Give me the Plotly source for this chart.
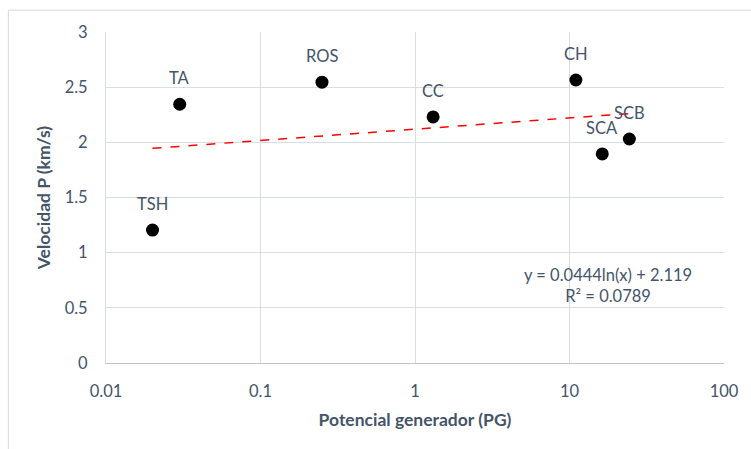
import numpy as np
import plotly.graph_objects as go

labels = ["TSH", "TA", "ROS", "CC", "CH", "SCA", "SCB"]
pg = [0.02, 0.03, 0.25, 1.31, 11.0, 16.3, 24.4]
vp = [1.205, 2.345, 2.545, 2.23, 2.565, 1.895, 2.03]
trend_a = 0.0444
trend_b = 2.119
trend_x = [0.02, 24.4]

text_col = "#44546A"
grid_col = "#D9DDE4"
font_fam = "Lato, 'Open Sans', sans-serif"

tx = np.logspace(np.log10(trend_x[0]), np.log10(trend_x[1]), 50)
ty = trend_a * np.log(tx) + trend_b

fig = go.Figure()
fig.add_trace(go.Scatter(x=tx, y=ty, mode="lines",
                         line=dict(color="#FF0000", width=1.5, dash="dash"),
                         hoverinfo="skip", showlegend=False))
fig.add_trace(go.Scatter(x=pg, y=vp, mode="markers",
                         marker=dict(color="black", size=13),
                         showlegend=False))

for lab, x, y in zip(labels, pg, vp):
    fig.add_annotation(x=np.log10(x), y=y, text=lab, showarrow=False,
                       xanchor="center", yanchor="middle",
                       yshift=26, font=dict(size=16.5, color=text_col, family=font_fam))

fig.add_annotation(xref="paper", yref="paper", x=0.812, y=0.233,
                   xanchor="center", yanchor="middle",
                   text="y = 0.0444ln(x) + 2.119<br>R² = 0.0789", showarrow=False,
                   align="center", font=dict(size=16.5, color=text_col, family=font_fam))

fig.add_shape(type="rect", xref="paper", yref="paper",
              x0=-0.158, x1=1.1, y0=-0.35, y1=1.066,
              line=dict(color="#D9D9D9", width=1), fillcolor="rgba(0,0,0,0)")

fig.update_layout(
    width=751, height=449,
    margin=dict(l=106, r=25, t=32, b=86),
    paper_bgcolor="white", plot_bgcolor="white",
    font=dict(family=font_fam, color=text_col, size=16),
    xaxis=dict(type="log", range=[-2, 2], tickvals=[0.01, 0.1, 1, 10, 100],
               ticktext=["0.01", "0.1", "1", "10", "100"],
               showgrid=True, gridcolor=grid_col, gridwidth=1,
               zeroline=False, showline=True, linecolor="#BCC5D3", mirror=False,
               ticks="", ticklabelstandoff=13, tickfont=dict(size=16.5, color=text_col),
               title=dict(text="<b>Potencial generador (PG)</b>",
                          font=dict(size=17.5, color=text_col), standoff=13)),
    yaxis=dict(range=[0, 3], tickvals=[0, 0.5, 1, 1.5, 2, 2.5, 3],
               ticktext=["0", "0.5", "1", "1.5", "2", "2.5", "3"],
               showgrid=True, gridcolor=grid_col, gridwidth=1,
               zeroline=False, showline=True, linecolor=grid_col, ticks="",
               ticklabelstandoff=14, tickfont=dict(size=16.5, color=text_col),
               title=dict(text="<b>Velocidad P (km/s)</b>",
                          font=dict(size=17.5, color=text_col), standoff=9)),
)

fig.write_html("out.html")
